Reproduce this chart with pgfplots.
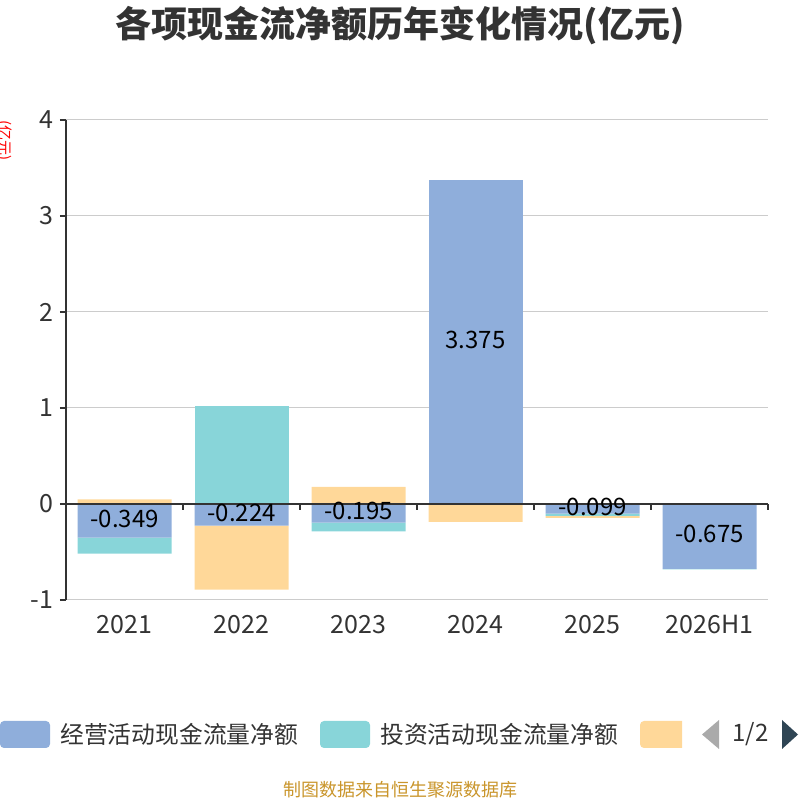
\documentclass[border=0pt]{standalone}
\usepackage{pgfplots}
\pgfplotsset{compat=1.18}
\usepackage{pgfplotstable}
\usepackage{fontspec}
\setmainfont{Noto Sans CJK SC}
\definecolor{cop}{HTML}{8FAEDB}
\definecolor{cinv}{HTML}{88D5D9}
\definecolor{cfin}{HTML}{FFD899}
\definecolor{txt}{HTML}{333333}
\definecolor{gridc}{HTML}{CCCCCC}
\definecolor{foot}{HTML}{C9952B}
\definecolor{navdark}{HTML}{2F4554}
\definecolor{navgray}{HTML}{AAAAAA}

\pgfplotstableread{
x op inv fin
0 0 0 0.048
1 0 1.018 0
2 0 0 0.178
3 3.375 0 0
4 0 0 0
5 0 0 0
}\pos
\pgfplotstableread{
x op inv fin
0 -0.349 -0.168 0
1 -0.224 0 -0.669
2 -0.195 -0.091 0
3 0 -0.005 -0.182
4 -0.099 -0.025 -0.020
5 -0.675 -0.005 0
}\neg
\pgfplotstableread{
x mid lab
0 -0.1745 -0.349
1 -0.112 -0.224
2 -0.0975 -0.195
3 1.6875 3.375
4 -0.0495 -0.099
5 -0.3375 -0.675
}\labs

\pgfplotsset{base/.style={at={(66pt,200pt)}, anchor=south west, scale only axis,
  width=702pt, height=480pt, xmin=-0.5, xmax=5.5, ymin=-1, ymax=4, clip=false}}

\begin{document}
\begin{tikzpicture}[x=1pt,y=1pt]
\path[use as bounding box] (0,0) rectangle (800,800);

\begin{axis}[base,
  axis x line=bottom, axis y line=left,
  axis line style={-},
  x axis line style={draw=none},
  y axis line style={draw=txt, line width=1.3pt},
  xtick={0,...,5}, xticklabels={2021,2022,2023,2024,2025,2026H1},
  xtick style={draw=none},
  ytick={-1,0,1,2,3,4}, yticklabels={-1,0,1,2,3,4},
  ytick style={draw=txt, line width=1.3pt},
  tick align=outside, major tick length=6pt,
  ymajorgrids, grid style={draw=gridc, line width=1pt},
  ticklabel style={font=\fontsize{25}{28}\selectfont, text=txt},
  yticklabel style={xshift=-3pt},
  xticklabel style={yshift=-6pt},
]
\end{axis}

\begin{axis}[base, hide axis, ybar stacked, bar width=94pt]
\addplot[fill=cop, draw=none] table[x=x,y=op]{\pos};
\addplot[fill=cinv, draw=none] table[x=x,y=inv]{\pos};
\addplot[fill=cfin, draw=none] table[x=x,y=fin]{\pos};
\end{axis}

\begin{axis}[base, hide axis, ybar stacked, bar width=94pt]
\addplot[fill=cop, draw=none] table[x=x,y=op]{\neg};
\addplot[fill=cinv, draw=none] table[x=x,y=inv]{\neg};
\addplot[fill=cfin, draw=none] table[x=x,y=fin]{\neg};
\end{axis}

\begin{axis}[base, axis x line=middle, axis y line=none,
  axis line style={-, draw=txt, line width=1.3pt},
  xtick={-0.5,0.5,1.5,2.5,3.5,4.5,5.5}, xticklabels={},
  tick align=outside, major tick length=6pt,
  xtick style={draw=txt, line width=1.3pt}, ytick=\empty]
\addplot[draw=none, mark=none, nodes near coords, point meta=explicit symbolic,
  nodes near coords style={anchor=center, font=\fontsize{24}{27}\selectfont, text=black, yshift=2pt}]
  table[x=x, y=mid, meta=lab]{\labs};
\end{axis}

\node[font=\bfseries\fontsize{36}{42}\selectfont, text=txt] at (400,774) {各项现金流净额历年变化情况(亿元)};
\node[font=\fontsize{15}{17}\selectfont, text=red, rotate=-90] at (4,659) {(亿元)};

\fill[cop, rounded corners=4pt] (0,52) rectangle (50,79);
\node[anchor=west, font=\fontsize{23.8}{27}\selectfont, text=txt, inner sep=0] at (60,65.5) {经营活动现金流量净额};
\fill[cinv, rounded corners=4pt] (320,52) rectangle (370,79);
\node[anchor=west, font=\fontsize{23.8}{27}\selectfont, text=txt, inner sep=0] at (380,65.5) {投资活动现金流量净额};
\begin{scope}
\clip (630,40) rectangle (682,90);
\fill[cfin, rounded corners=4pt] (640,52) rectangle (695,79);
\end{scope}
\fill[navgray] (719,80) -- (719,51) -- (702,65.5) -- cycle;
\node[font=\fontsize{24}{27}\selectfont, text=txt] at (750.5,65.5) {1/2};
\fill[navdark] (782,80) -- (782,51) -- (798,65.5) -- cycle;

\node[font=\fontsize{18}{21}\selectfont, text=foot] at (400,10) {制图数据来自恒生聚源数据库};
\end{tikzpicture}
\end{document}
